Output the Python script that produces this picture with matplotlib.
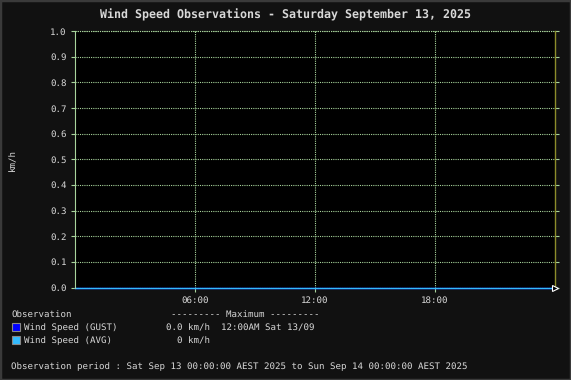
import matplotlib

matplotlib.use("Agg")
import matplotlib.pyplot as plt
from matplotlib.patches import Rectangle

# ---- data (empty day: everything at zero)
hours = [0, 24]
gust = [0.0, 0.0]
avg = [0.0, 0.0]
y_ticks = [0.0, 0.1, 0.2, 0.3, 0.4, 0.5, 0.6, 0.7, 0.8, 0.9, 1.0]
x_ticks = [6, 12, 18]
x_labels = ["06:00", "12:00", "18:00"]

TITLE = "Wind Speed Observations - Saturday September 13, 2025"
legend_rows = [
    ("Wind Speed (GUST)", "0.0 km/h", "12:00AM Sat 13/09", "#0000ff"),
    ("Wind Speed (AVG)", "0 km/h", "", "#33bbff"),
]
PERIOD = ("Observation period : Sat Sep 13 00:00:00 AEST 2025 "
          "to Sun Sep 14 00:00:00 AEST 2025")

BG = "#111111"
FG = "#d8d8d8"
GRID = "#a8d49c"
MONO = "DejaVu Sans Mono"
FS = 6.62

plt.rcParams["text.hinting"] = "no_hinting"

W, H = 571, 380
fig = plt.figure(figsize=(W / 100, H / 100), dpi=100, facecolor=BG)


def px(x, y):
    # pixel coords (top-left origin) -> figure fraction
    return x / W, 1 - y / H


L, T, R, B = 75, 31, 555, 287.5
ax = fig.add_axes([L / W, 1 - B / H, (R - L) / W, (B - T) / H])
ax.set_facecolor("black")
ax.set_xlim(0, 24)
ax.set_ylim(0, 1.0)

ax.set_yticks(y_ticks)
ax.set_yticklabels([f"{v:.1f}" for v in y_ticks])
ax.set_xticks(x_ticks)
ax.set_xticklabels(x_labels)
ax.tick_params(colors=GRID, labelcolor=FG, labelsize=FS, length=3, width=0.8,
               direction="out", pad=3)
ax.tick_params(axis="y", right=True, direction="out")
for lab in ax.get_xticklabels() + ax.get_yticklabels():
    lab.set_family(MONO)

ax.grid(True, color=GRID, linestyle=(0, (1, 1)), linewidth=0.8)
for side in ("top", "bottom"):
    ax.spines[side].set_visible(False)
ax.spines["left"].set_color(GRID)
ax.spines["right"].set_color("#8c8c2a")
ax.spines["left"].set_linewidth(0.8)
ax.spines["right"].set_linewidth(1.0)
ax.axhline(1.0, color=GRID, linestyle=(0, (1, 1)), linewidth=0.8, clip_on=False)

ax.plot(hours, gust, color="#0000ff", linewidth=1.0, clip_on=False)
ax.plot(hours, avg, color="#33bbff", linewidth=1.0, clip_on=False)

# arrow at the end of the x axis
ax.plot([1.0], [0.0], marker=">", markersize=5, markerfacecolor="black",
        markeredgecolor="white", markeredgewidth=0.8,
        transform=ax.get_yaxis_transform(), clip_on=False, zorder=6)
ax.plot([1.0, 1.005], [0.0, 0.0], color="#33bbff", linewidth=1.0,
        transform=ax.get_yaxis_transform(), clip_on=False)

fig.text(*px(285.5, 15), TITLE, family=MONO, fontsize=8.4, weight="bold",
         color=FG, ha="center", va="center")
fig.text(*px(13, 160), "km/h", family=MONO, fontsize=FS, color=FG,
         rotation=90, ha="center", va="center")

# legend block
fig.text(*px(11, 314), "Observation", family=MONO, fontsize=FS, color=FG,
         va="center")
fig.text(*px(171, 314), "--------- Maximum ---------", family=MONO,
         fontsize=FS, color=FG, va="center")
for i, (name, val, when, col) in enumerate(legend_rows):
    y = 327.3 + 13 * i
    fig.patches.append(Rectangle(px(11.5, y + 4), 8 / W, 8 / H,
                                 transform=fig.transFigure, facecolor=col,
                                 edgecolor="#888888", linewidth=0.8))
    fig.text(*px(24, y), name, family=MONO, fontsize=FS, color=FG,
             va="center")
    fig.text(*px(209.5, y), val, family=MONO, fontsize=FS, color=FG,
             va="center", ha="right")
    if when:
        fig.text(*px(221, y), when, family=MONO, fontsize=FS, color=FG,
                 va="center")
fig.text(*px(11, 366.7), PERIOD, family=MONO, fontsize=FS, color=FG,
         va="center")

# outer frame
fig.patches.append(Rectangle((0, 0), 1, 1, transform=fig.transFigure,
                             facecolor="none", edgecolor="#3a3a3a",
                             linewidth=2.5))

fig.savefig("out.png", dpi=100, facecolor=BG)
